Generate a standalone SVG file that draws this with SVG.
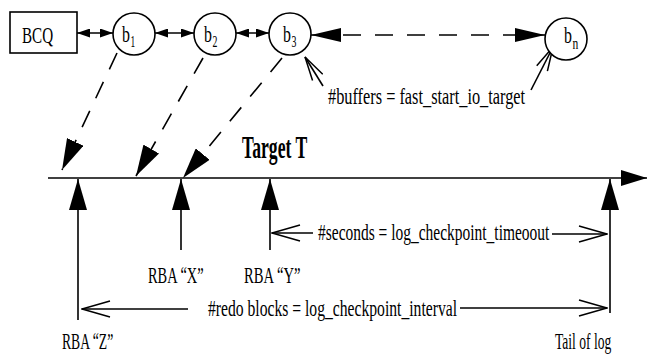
<svg xmlns="http://www.w3.org/2000/svg" width="649" height="356" viewBox="0 0 649 356">
<style>
  .ln { stroke: #000; stroke-width: 1.6; fill: none; }
  .dash { stroke-dasharray: 18 14; }
  .node { stroke: #000; stroke-width: 1.6; fill: #fff; }
  text { font-family: "Liberation Serif", "Times New Roman", serif; fill: #000; }
  .lbl { font-size: 24px; }
  .sub { font-size: 17px; }
  .ttl { font-size: 31px; font-weight: bold; }
</style>
<defs>
  <marker id="fs" viewBox="0 0 13 9" refX="13" refY="4.5" markerWidth="13" markerHeight="9" markerUnits="userSpaceOnUse" orient="auto-start-reverse">
    <path d="M0,0 L13,4.5 L0,9 z" fill="#000"/>
  </marker>
  <marker id="fd" viewBox="0 0 30 14" refX="30" refY="7" markerWidth="30" markerHeight="14" markerUnits="userSpaceOnUse" orient="auto-start-reverse">
    <path d="M0,0 L30,7 L0,14 z" fill="#000"/>
  </marker>
  <marker id="fb" viewBox="0 0 31 18" refX="31" refY="9" markerWidth="31" markerHeight="18" markerUnits="userSpaceOnUse" orient="auto">
    <path d="M0,0 L31,9 L0,18 z" fill="#000"/>
  </marker>
  <marker id="ft" viewBox="0 0 26 16" refX="26" refY="8" markerWidth="26" markerHeight="16" markerUnits="userSpaceOnUse" orient="auto">
    <path d="M0,0 L26,8 L0,16 z" fill="#000"/>
  </marker>
  <marker id="op" viewBox="-1 -1 30 18" refX="28" refY="8" markerWidth="30" markerHeight="18" markerUnits="userSpaceOnUse" orient="auto">
    <path d="M0,0 L28,8 L0,16" fill="none" stroke="#000" stroke-width="1.5"/>
  </marker>
  <marker id="op2" viewBox="-1 -1 26 14" refX="24" refY="6" markerWidth="26" markerHeight="14" markerUnits="userSpaceOnUse" orient="auto">
    <path d="M0,0 L24,6 L0,12" fill="none" stroke="#000" stroke-width="1.5"/>
  </marker>
</defs>
<rect width="649" height="356" fill="#fff"/>

<g id="connectors">
  <line class="ln" x1="77" y1="33" x2="113" y2="33" marker-start="url(#fs)" marker-end="url(#fs)"/>
  <line class="ln" x1="155" y1="33" x2="194" y2="33" marker-start="url(#fs)" marker-end="url(#fs)"/>
  <line class="ln" x1="236" y1="33" x2="269" y2="33" marker-start="url(#fs)" marker-end="url(#fs)"/>
  <line class="ln dash" x1="311" y1="35" x2="545" y2="35" marker-start="url(#fd)" marker-end="url(#fd)"/>
  <line class="ln dash" x1="117" y1="53" x2="62" y2="170" marker-end="url(#fb)"/>
  <line class="ln dash" x1="203" y1="58" x2="136" y2="176" marker-end="url(#fb)"/>
  <line class="ln dash" x1="282" y1="58" x2="183" y2="178" marker-end="url(#fb)"/>
  <line class="ln" x1="48" y1="178" x2="647" y2="178" stroke-width="2" marker-end="url(#ft)"/>
  <line class="ln" x1="78" y1="320" x2="78" y2="179" stroke-width="2" marker-end="url(#fb)"/>
  <line class="ln" x1="181" y1="250" x2="181" y2="179" stroke-width="2" marker-end="url(#fb)"/>
  <line class="ln" x1="270" y1="250" x2="270" y2="179" stroke-width="2" marker-end="url(#fb)"/>
  <line class="ln" x1="610" y1="313" x2="610" y2="179" stroke-width="2" marker-end="url(#fb)"/>
  <line class="ln" x1="323" y1="86" x2="305" y2="57" marker-end="url(#op2)"/>
  <line class="ln" x1="531" y1="90" x2="553" y2="47" marker-end="url(#op2)"/>
  <line class="ln" x1="313" y1="233" x2="272" y2="233" marker-end="url(#op)"/>
  <line class="ln" x1="552" y1="234" x2="607" y2="234" marker-end="url(#op)"/>
  <line class="ln" x1="188" y1="309" x2="82" y2="309" marker-end="url(#op)"/>
  <line class="ln" x1="460" y1="308" x2="607" y2="308" marker-end="url(#op)"/>
</g>

<g id="node-bcq">
  <rect class="node" x="10" y="12" width="67" height="41"/>
  <text class="lbl" transform="translate(22,43) scale(0.63,1)">BCQ</text>
</g>
<g id="node-b1">
  <circle class="node" cx="134" cy="34" r="21"/>
  <text class="lbl" transform="translate(122,42) scale(0.66,1)">b</text>
  <text class="sub" transform="translate(130.5,47) scale(0.55,1)">1</text>
</g>
<g id="node-b2">
  <circle class="node" cx="215" cy="34" r="21"/>
  <text class="lbl" transform="translate(204,42) scale(0.66,1)">b</text>
  <text class="sub" transform="translate(212.5,47) scale(0.58,1)">2</text>
</g>
<g id="node-b3">
  <circle class="node" cx="290" cy="34" r="21"/>
  <text class="lbl" transform="translate(283,42) scale(0.66,1)">b</text>
  <text class="sub" transform="translate(291.5,47) scale(0.58,1)">3</text>
</g>
<g id="node-bn">
  <circle class="node" cx="566" cy="39" r="21"/>
  <text class="lbl" transform="translate(564,43) scale(0.66,1)">b</text>
  <text class="sub" transform="translate(572.5,49) scale(0.68,1)">n</text>
</g>

<g id="labels">
  <text class="lbl" transform="translate(328,104) scale(0.68,1)">#buffers = fast_start_io_target</text>
  <text class="ttl" transform="translate(242,158) scale(0.57,1)">Target T</text>
  <text class="lbl" transform="translate(148,283) scale(0.6,1)">RBA “X”</text>
  <text class="lbl" transform="translate(244,283) scale(0.61,1)">RBA “Y”</text>
  <text class="lbl" transform="translate(318,240) scale(0.645,1)">#seconds = log_checkpoint_timeoout</text>
  <text class="lbl" transform="translate(208,316) scale(0.652,1)">#redo blocks = log_checkpoint_interval</text>
  <text class="lbl" transform="translate(62,349) scale(0.57,1)">RBA “Z”</text>
  <text class="lbl" transform="translate(555,349) scale(0.565,1)">Tail of log</text>
</g>
</svg>
